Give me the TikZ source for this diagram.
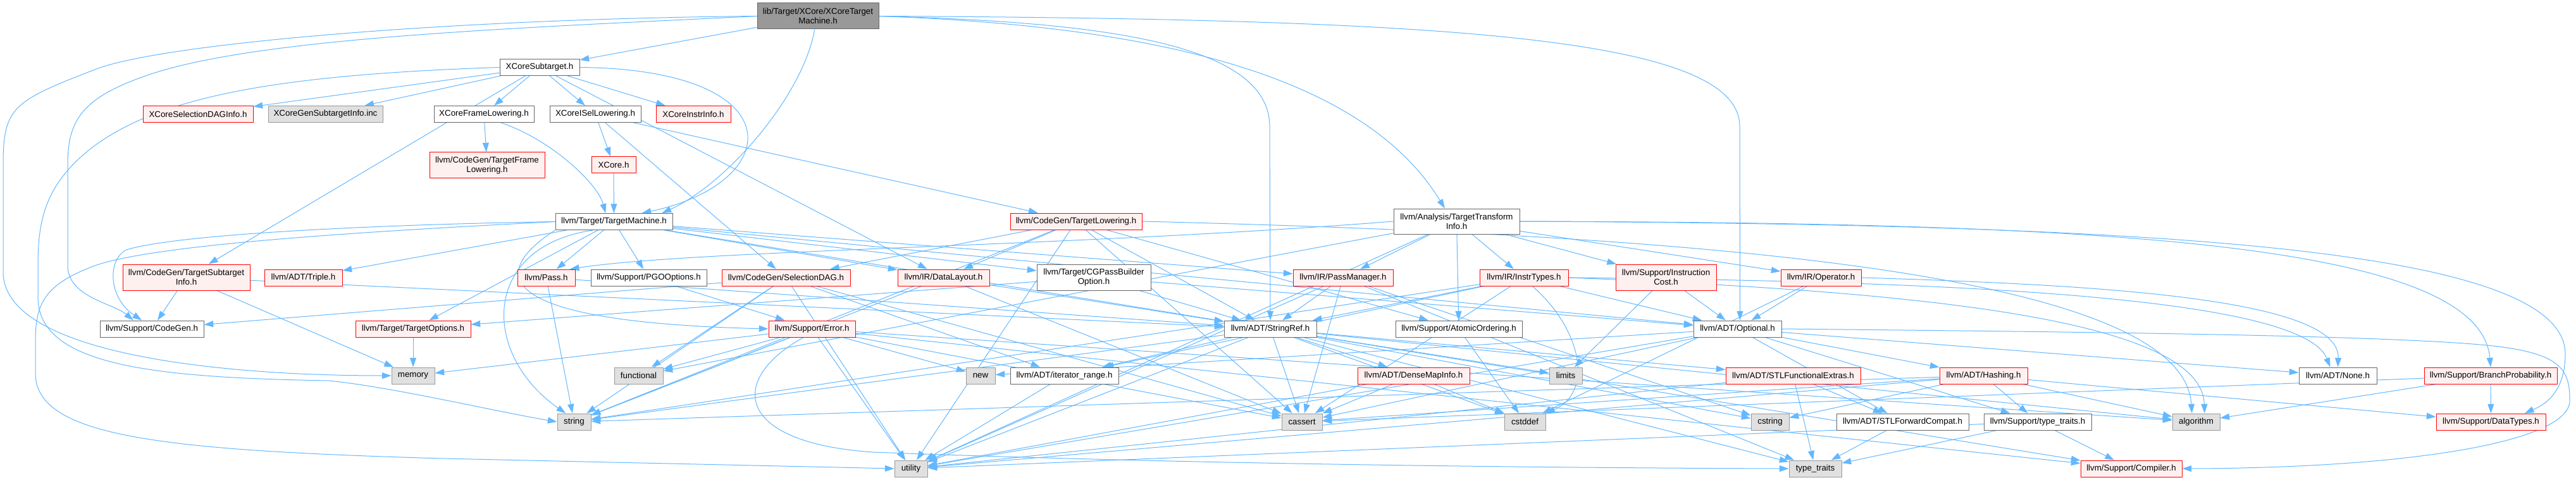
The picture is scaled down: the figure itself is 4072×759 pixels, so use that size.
\documentclass[tikz,border=0pt]{standalone}
\usepackage{fontspec}
\setmainfont{Liberation Sans}
\usetikzlibrary{arrows.meta,backgrounds}
\definecolor{edgec}{RGB}{99,184,255}
\definecolor{redfill}{HTML}{FFF0F0}
\definecolor{grayfill}{HTML}{E0E0E0}
\definecolor{rootfill}{HTML}{999999}
\definecolor{bord}{HTML}{666666}
\definecolor{grayb}{HTML}{999999}
\tikzset{
 nb/.style={rectangle, line width=0.75pt, inner sep=1pt, align=center, font=\fontsize{10}{11.5}\selectfont, minimum height=19.5pt, text=black},
 wn/.style={nb, draw=bord, fill=white},
 rn/.style={nb, draw=red, fill=redfill},
 gn/.style={nb, draw=grayb, fill=grayfill},
 rootn/.style={nb, draw=bord, fill=rootfill},
 twoline/.style={minimum height=30.75pt},
 lk/.style={draw=edgec, line width=0.75pt, -{Triangle[length=11pt,width=7.5pt]}}
}
\begin{document}
\begin{tikzpicture}[x=0.75pt,y=-0.75pt]
\useasboundingbox (0,0) rectangle (4072,759);
% row 0-1
\node[rootn,twoline,minimum width=144pt] (root) at (1293,25.5) {lib/Target/XCore/XCoreTarget\\Machine.h};
\node[wn,minimum width=94.5pt] (sub) at (853,106.5) {XCoreSubtarget.h};
% row 2
\node[rn,minimum width=130.5pt] (seldag) at (313,180.5) {XCoreSelectionDAGInfo.h};
\node[gn,minimum width=135.75pt] (gensub) at (514.5,180.5) {XCoreGenSubtargetInfo.inc};
\node[wn,minimum width=118.5pt] (framel) at (765,180.5) {XCoreFrameLowering.h};
\node[wn,minimum width=108pt] (isel) at (941,180.5) {XCoreISelLowering.h};
\node[rn,minimum width=88.5pt] (instr) at (1096,180.5) {XCoreInstrInfo.h};
% row 3
\node[rn,twoline,minimum width=136.5pt] (tfl) at (770,261.5) {llvm/CodeGen/TargetFrame\\Lowering.h};
\node[rn,minimum width=52.5pt] (xcore) at (970,261) {XCore.h};
% row 4
\node[wn,minimum width=138.75pt] (tm) at (970.5,350.5) {llvm/Target/TargetMachine.h};
\node[rn,minimum width=156pt] (tl) at (1701,350) {llvm/CodeGen/TargetLowering.h};
\node[wn,twoline,minimum width=149.25pt,minimum height=30pt] (tti) at (2302.5,350) {llvm/Analysis/TargetTransform\\Info.h};
% row 5
\node[rn,twoline,minimum width=150.75pt] (tsi) at (294.5,438.5) {llvm/CodeGen/TargetSubtarget\\Info.h};
\node[rn,minimum width=92.25pt] (triple) at (479.5,439) {llvm/ADT/Triple.h};
\node[rn,minimum width=68.25pt] (pass) at (863.5,439) {llvm/Pass.h};
\node[wn,minimum width=137.25pt] (pgo) at (1025.5,439) {llvm/Support/PGOOptions.h};
\node[rn,minimum width=152.25pt] (sdag) at (1242.5,439) {llvm/CodeGen/SelectionDAG.h};
\node[rn,minimum width=108.75pt] (dl) at (1491.5,439) {llvm/IR/DataLayout.h};
\node[wn,twoline,minimum width=135pt] (cgpb) at (1729,438.5) {llvm/Target/CGPassBuilder\\Option.h};
\node[rn,minimum width=118.5pt] (pm) at (2123,439) {llvm/IR/PassManager.h};
\node[rn,minimum width=105pt] (it) at (2409,439) {llvm/IR/InstrTypes.h};
\node[rn,twoline,minimum width=119.25pt] (ic) at (2633.5,438.5) {llvm/Support/Instruction\\Cost.h};
\node[rn,minimum width=95.25pt] (op) at (2878.5,439) {llvm/IR/Operator.h};
% row 6
\node[wn,minimum width=123pt] (codegen) at (240,520) {llvm/Support/CodeGen.h};
\node[rn,minimum width=136.5pt] (topt) at (653,520) {llvm/Target/TargetOptions.h};
\node[rn,minimum width=102.75pt] (err) at (1283.5,520) {llvm/Support/Error.h};
\node[wn,minimum width=109.5pt] (sref) at (2008,520) {llvm/ADT/StringRef.h};
\node[wn,minimum width=150pt] (ao) at (2306,520) {llvm/Support/AtomicOrdering.h};
\node[wn,minimum width=104.25pt] (opt) at (2746.5,520) {llvm/ADT/Optional.h};
% row 7
\node[gn,minimum width=51pt] (memory) at (653,594) {memory};
\node[gn,minimum width=57.75pt] (functional) at (1009.5,594) {functional};
\node[gn,minimum width=34.5pt] (new) at (1550,594) {new};
\node[wn,minimum width=128.25pt] (itr) at (1682.5,594) {llvm/ADT/iterator\_range.h};
\node[rn,minimum width=132.75pt] (dmi) at (2234.5,594) {llvm/ADT/DenseMapInfo.h};
\node[gn,minimum width=39pt] (limits) at (2475,594) {limits};
\node[rn,minimum width=159.75pt] (stlfe) at (2834.5,594) {llvm/ADT/STLFunctionalExtras.h};
\node[rn,minimum width=104.25pt] (hashing) at (3135.5,594) {llvm/ADT/Hashing.h};
\node[wn,minimum width=92.25pt] (none) at (3695.5,594) {llvm/ADT/None.h};
\node[rn,minimum width=157.5pt] (bp) at (3937,594) {llvm/Support/BranchProbability.h};
% row 8
\node[gn,minimum width=39.75pt] (string) at (907.5,667) {string};
\node[gn,minimum width=48pt] (cassert) at (2058,667) {cassert};
\node[gn,minimum width=48.75pt] (cstddef) at (2410.5,667) {cstddef};
\node[gn,minimum width=45pt] (cstring) at (2798,667) {cstring};
\node[wn,minimum width=156.75pt] (stlfc) at (3007.5,667) {llvm/ADT/STLForwardCompat.h};
\node[wn,minimum width=127.5pt] (ttr) at (3221,667) {llvm/Support/type\_traits.h};
\node[gn,minimum width=56.25pt] (algorithm) at (3471.5,667) {algorithm};
\node[rn,minimum width=129.75pt] (datatypes) at (3937.5,667) {llvm/Support/DataTypes.h};
% row 9
\node[gn,minimum width=39pt] (utility) at (1440,741) {utility};
\node[gn,minimum width=62.25pt] (typetraits) at (2869.5,741) {type\_traits};
\node[rn,minimum width=120pt] (compiler) at (3369,741) {llvm/Support/Compiler.h};

\begin{scope}[on background layer]
\fill[white] (0,0) rectangle (4072,759);
\foreach \a/\b in {root/sub, sub/seldag, sub/gensub, sub/framel, sub/isel, sub/instr, sub/tsi, sub/dl,
 framel/tfl, isel/xcore, isel/sdag, isel/tl, xcore/tm,
 tm/pass, tm/pgo, tm/topt, tm/cgpb, tm/dl, tm/pm, tm/triple, tm/sref, tm/opt,
 tl/sdag, tl/dl, tl/sref, tl/ao, tl/cassert, tl/string, tl/utility,
 tti/pm, tti/it, tti/ao, tti/ic, tti/op, tti/functional, tti/utility,
 pass/string, pass/sref, pgo/err,
 sdag/codegen, sdag/functional, sdag/string, sdag/itr, sdag/cassert, sdag/utility,
 dl/sref, dl/cassert, dl/string, cgpb/topt, cgpb/opt, cgpb/sref,
 pm/sref, pm/cassert, pm/cstring, pm/typetraits, pm/utility,
 it/opt, it/sref, it/itr, it/cassert, it/string, ic/opt, ic/limits, op/opt, op/cstddef,
 tsi/codegen, tsi/memory, tsi/sref, topt/memory,
 err/memory, err/functional, err/string, err/new, err/cassert, err/algorithm, err/utility, err/compiler,
 sref/dmi, sref/stlfe, sref/itr, sref/compiler, sref/algorithm, sref/cassert, sref/cstddef, sref/cstring,
 sref/limits, sref/string, sref/typetraits, sref/utility, ao/cstddef,
 opt/hashing, opt/none, opt/stlfc, opt/ttr, opt/cassert, opt/new, opt/utility,
 dmi/cassert, dmi/cstddef, dmi/utility, itr/utility,
 stlfe/stlfc, stlfe/typetraits, stlfe/utility,
 hashing/datatypes, hashing/ttr, hashing/algorithm, hashing/cassert, hashing/cstring, hashing/string, hashing/utility,
 bp/datatypes, bp/algorithm, bp/cassert, stlfc/typetraits, ttr/compiler, ttr/typetraits, ttr/utility}
 \draw[lk] (\a) -- (\b);
% curved connectors
\draw[lk] (root.west) .. controls (700,30) and (250,70) .. (150,110) .. controls (20,160) and (5,170) .. (5,260) -- (5,430) .. controls (5,560) and (350,594) .. (memory.west);
\draw[lk] (root.west) .. controls (800,45) and (400,60) .. (230,120) .. controls (130,155) and (107,190) .. (107,260) -- (107,420) .. controls (107,470) and (180,480) .. ([xshift=-22pt]codegen.north);
\draw[lk] (root.east) .. controls (1750,35) and (2007,70) .. (2007,200) -- (sref.north);
\draw[lk] (root.east) .. controls (2300,30) and (2750,60) .. (2750,200) -- ([xshift=3pt]opt.north);
\draw[lk] (root.east) .. controls (1800,40) and (2150,110) .. ([xshift=-14pt]tti.north);
\draw[lk] ([xshift=-4pt]root.south) .. controls (1270,150) and (1150,290) .. ([xshift=57pt]tm.north);
\draw[lk] (sub.east) .. controls (1260,110) and (1240,290) .. ([xshift=33pt]tm.north);
\draw[lk] ([xshift=20pt]framel.south) .. controls (870,220) and (945,290) .. ([xshift=-10pt]tm.north);
\draw[lk] (sub.west) .. controls (450,118) and (260,150) .. (150,230) .. controls (70,290) and (60,350) .. (60,420) -- (60,470) .. controls (60,580) and (250,597) .. (520,602) .. controls (620,612) and (780,650) .. (string.west);
\draw[lk] (tm.west) .. controls (600,355) and (280,370) .. (200,395) .. controls (170,410) and (170,470) .. ([xshift=-12pt]codegen.north);
\draw[lk] (tm.west) .. controls (600,365) and (250,385) .. (150,420) .. controls (70,450) and (56,480) .. (56,540) -- (56,590) .. controls (56,690) and (250,712) .. (700,725) -- (utility.west);
\draw[lk] (tm.south west) .. controls (760,440) and (800,510) .. (err.west);
\draw[lk] ([xshift=-25pt]tm.south) .. controls (760,390) and (760,560) .. ([xshift=-10pt]string.north);
\draw[lk] (tti.west) .. controls (1700,390) and (1100,395) .. ([xshift=28pt]pass.north);
\draw[lk] (tti.east) .. controls (3300,352) and (3920,380) .. (bp.north);
\draw[lk] (tti.east) .. controls (3400,355) and (4055,390) .. (4055,560) .. controls (4055,630) and (4010,645) .. ([xshift=40pt]datatypes.north);
\draw[lk] (opt.east) .. controls (3300,525) and (3800,530) .. (3950,548) .. controls (4040,560) and (4062,580) .. (4062,630) .. controls (4070,700) and (3800,740) .. (compiler.east);
\draw[lk] (it.east) .. controls (3100,445) and (3640,470) .. ([xshift=-9pt]none.north);
\draw[lk] (op.east) .. controls (3300,450) and (3700,470) .. (none.north);
\draw[lk] (it.east) .. controls (3000,460) and (3480,500) .. ([xshift=10pt]algorithm.north);
\draw[lk] (tl.east) .. controls (2600,370) and (3450,420) .. ([xshift=-5pt]algorithm.north);
\draw[lk] ([xshift=10pt]it.south) .. controls (2500,520) and (2520,620) .. (cstddef.north east);
\draw[lk] ([xshift=-10pt]err.south) .. controls (1150,600) and (1160,700) .. (1380,715) .. controls (1900,735) and (2500,740) .. (typetraits.west);
\end{scope}
\end{tikzpicture}
\end{document}
